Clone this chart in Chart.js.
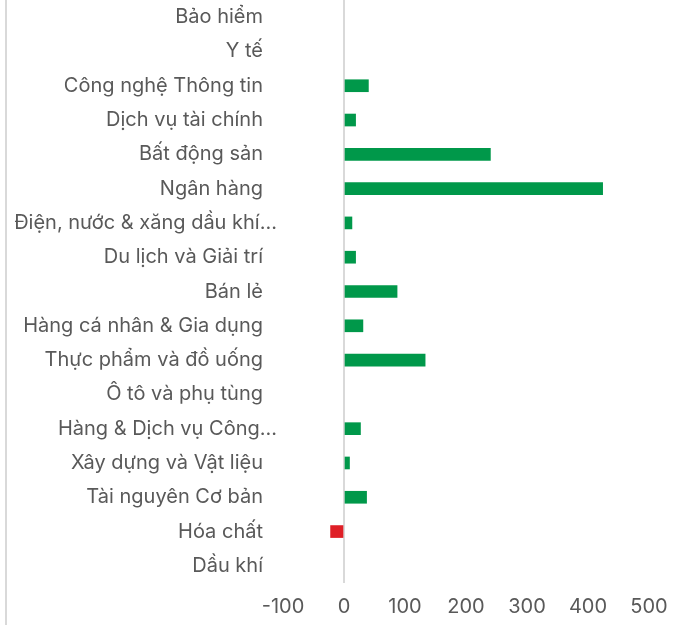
<!DOCTYPE html>
<html>
<head>
<meta charset="utf-8">
<script src="https://cdn.jsdelivr.net/npm/chart.js@4.4.1/dist/chart.umd.min.js"></script>
<style>
  body { margin: 0; background: #fff; }
  #wrap { position: relative; width: 685px; height: 626px; }
  #edge { position: absolute; left: 5px; top: 0; width: 2px; height: 625px; background: #d9d9d9; }
</style>
</head>
<body>
<div id="wrap">
  <div id="edge"></div>
  <canvas id="barChart" width="685" height="626"></canvas>
</div>
<script>
const sectors = [
    "Bảo hiểm",
    "Y tế",
    "Công nghệ Thông tin",
    "Dịch vụ tài chính",
    "Bất động sản",
    "Ngân hàng",
    "Điện, nước & xăng dầu khí...",
    "Du lịch và Giải trí",
    "Bán lẻ",
    "Hàng cá nhân & Gia dụng",
    "Thực phẩm và đồ uống",
    "Ô tô và phụ tùng",
    "Hàng & Dịch vụ Công...",
    "Xây dựng và Vật liệu",
    "Tài nguyên Cơ bản",
    "Hóa chất",
    "Dầu khí"
];
const values = [0, 0, 40, 19, 240, 424, 13, 19, 87, 31, 133, 0, 27, 9, 37, -22, 0];
const xTicks = [-100, 0, 100, 200, 300, 400, 500];

const green = '#00984a';
const red = '#df1f26';
const textColor = '#595959';
const labelFont = { family: 'Inter', size: 20 };

// truncated labels (ending in "...") hang a bit past the others, like in Excel
const shiftTruncated = {
    id: 'shiftTruncated',
    beforeDraw(chart) {
        const y = chart.scales.y;
        y.getLabelItems().forEach(item => {
            if (!item._shifted && String(item.label).endsWith('...')) {
                item.options.translation[0] += 14;
                item._shifted = true;
            }
        });
    }
};

const ctx = document.getElementById("barChart").getContext("2d");
const myChart = new Chart(ctx, {
    type: 'bar',
    data: {
        labels: sectors,
        datasets: [{
            data: values,
            backgroundColor: values.map(v => v < 0 ? red : (v > 0 ? green : 'rgba(0,0,0,0)')),
            barThickness: 12
        }]
    },
    plugins: [shiftTruncated],
    options: {
        indexAxis: 'y',
        responsive: false,
        animation: false,
        layout: { padding: { left: 0, right: 36, top: 0, bottom: 0 } },
        plugins: { legend: { display: false }, tooltip: { enabled: false } },
        scales: {
            x: {
                min: xTicks[0],
                max: xTicks[xTicks.length - 1],
                afterBuildTicks: scale => { scale.ticks = xTicks.map(v => ({ value: v })); },
                grid: {
                    drawTicks: false,
                    lineWidth: 2,
                    color: c => c.tick && c.tick.value === 0 ? '#d9d9d9' : 'rgba(0,0,0,0)'
                },
                border: { display: false },
                ticks: {
                    color: textColor,
                    font: labelFont,
                    padding: 12
                },
                afterFit: scale => { scale.height = 43; }
            },
            y: {
                grid: { display: false },
                border: { display: false },
                ticks: {
                    color: textColor,
                    font: labelFont,
                    padding: 12,
                    autoSkip: false
                },
                afterFit: scale => {
                    scale.width = 283;
                    scale.paddingTop = 0;
                    scale.paddingBottom = 0;
                }
            }
        }
    }
});
</script>
</body>
</html>
